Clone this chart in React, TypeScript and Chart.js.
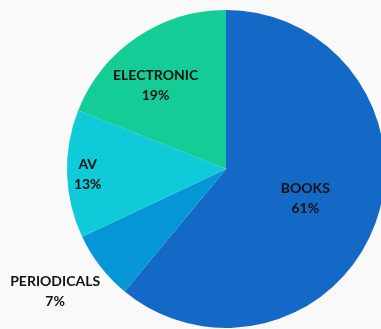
import React, { useEffect, useRef } from "react";
import { Chart, registerables } from "chart.js";

Chart.register(...registerables);

const categories = ["BOOKS", "PERIODICALS", "AV", "ELECTRONIC"];
const values = [61, 7, 13, 19];
const colors = ["#1469c6", "#0596d6", "#0fcad8", "#14cc96"];
const labelRadius = [0.53, 1.32, 0.87, 0.69];
const labelAngleShift = [0, 0.04, 0, -0.1];

const labelPlugin = {
  id: "sliceLabels",
  afterDatasetsDraw(chart: any) {
    const ctx = chart.ctx;
    const meta = chart.getDatasetMeta(0);
    const total = values.reduce((a, b) => a + b, 0);
    ctx.save();
    ctx.font = "bold 14px Lato, 'Open Sans', sans-serif";
    ctx.fillStyle = "#111";
    ctx.textAlign = "center";
    ctx.textBaseline = "middle";
    meta.data.forEach((arc: any, i: number) => {
      const { x, y, startAngle, endAngle, outerRadius } = arc.getProps(
        ["x", "y", "startAngle", "endAngle", "outerRadius"],
        true
      );
      const mid = (startAngle + endAngle) / 2 + labelAngleShift[i];
      const r = outerRadius * labelRadius[i];
      const cx = x + Math.cos(mid) * r;
      const cy = y + Math.sin(mid) * r;
      const pct = Math.round((values[i] / total) * 100) + "%";
      ctx.fillText(categories[i], cx, cy - 9);
      ctx.fillText(pct, cx, cy + 11);
    });
    ctx.restore();
  },
};

export default function App() {
  const ref = useRef<HTMLCanvasElement>(null);
  useEffect(() => {
    if (!ref.current) return;
    const chart = new Chart(ref.current, {
      type: "pie",
      data: {
        labels: categories,
        datasets: [
          {
            data: values,
            backgroundColor: colors,
            borderWidth: 0,
          },
        ],
      },
      options: {
        animation: false,
        responsive: false,
        maintainAspectRatio: false,
        layout: { padding: 10 },
        plugins: {
          legend: { display: false },
          tooltip: { enabled: false },
        },
      },
      plugins: [labelPlugin],
    });
    return () => chart.destroy();
  }, []);
  return (
    <div
      style={{
        position: "fixed",
        left: 0,
        top: 0,
        width: 381,
        height: 329,
        overflow: "hidden",
        background: "#f9f9f9",
      }}
    >
      <canvas
        ref={ref}
        width={452}
        height={338}
        style={{ position: "absolute", left: 0, top: 0, width: 452, height: 338 }}
      />
    </div>
  );
}
